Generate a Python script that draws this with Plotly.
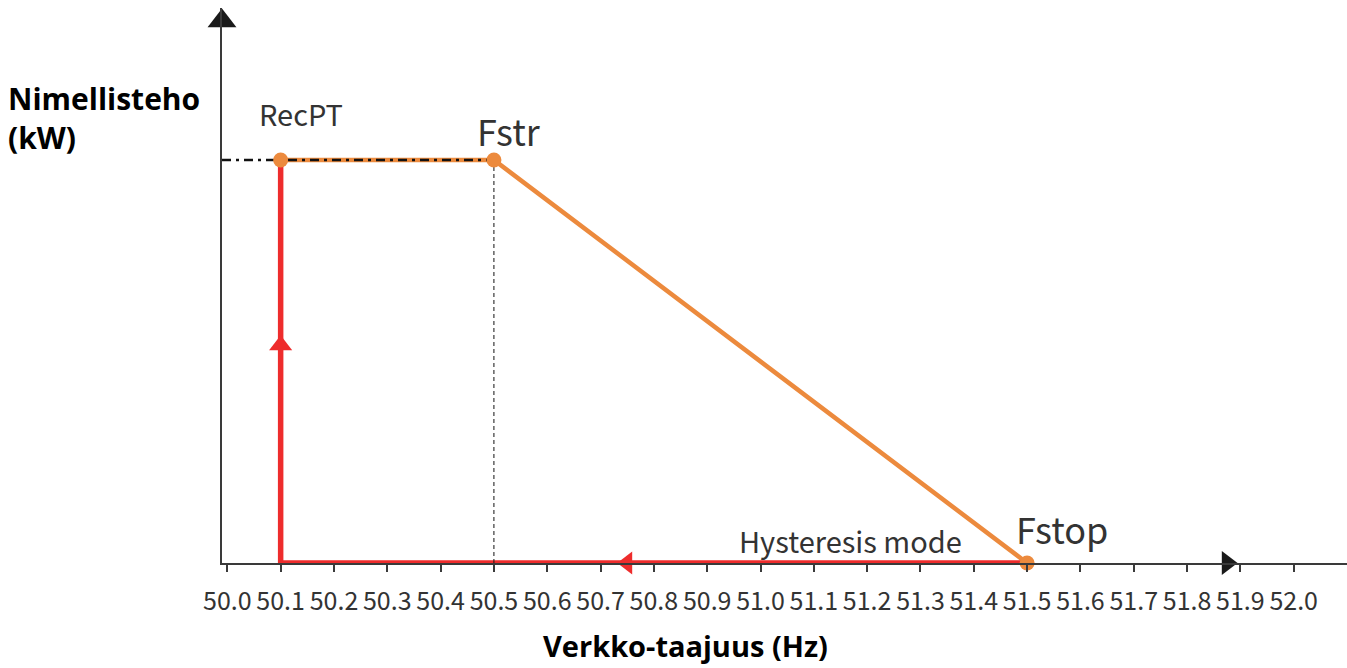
import plotly.graph_objects as go

# Frequency / power characteristic
freq_ticks = [round(50.0 + 0.1 * i, 1) for i in range(21)]
tick_text = [f"{v:.1f}" for v in freq_ticks]

orange_x = [50.1, 50.5, 51.5]
orange_y = [1.0, 1.0, 0.0]

red_x = [51.5, 50.1, 50.1]
red_y = [0.0, 0.0, 1.0]

dot_x = [50.1, 50.5, 51.5]
dot_y = [1.0, 1.0, 0.0]

rated_level = 1.0
f_start = 50.5
x_min, x_max = 49.99, 52.1
y_min, y_max = 0.0, 1.377

ORANGE = "#EC8A3D"
RED = "#EE2C2C"
AX = "#3a3a3a"
TXT = "#333333"
LAB_FONT = "Noto Sans CJK SC"

fig = go.Figure()

# orange power-reduction curve
fig.add_trace(go.Scatter(x=orange_x, y=orange_y, mode="lines",
                         line=dict(color=ORANGE, width=4.5), hoverinfo="skip"))
# red hysteresis return path
fig.add_trace(go.Scatter(x=red_x, y=red_y, mode="lines",
                         line=dict(color=RED, width=5.5), cliponaxis=False, hoverinfo="skip"))
# dash-dot rated power reference
fig.add_trace(go.Scatter(x=[x_min, f_start], y=[rated_level, rated_level], mode="lines",
                         line=dict(color="#111111", width=2.5, dash="9px,5px,3px,5px"),
                         hoverinfo="skip"))
# thin dashed drop line at Fstr
fig.add_trace(go.Scatter(x=[f_start, f_start], y=[0, rated_level], mode="lines",
                         line=dict(color="#111111", width=1, dash="4px,3px"), hoverinfo="skip"))
# direction arrows on the red path
fig.add_trace(go.Scatter(x=[50.75], y=[0.0], mode="markers",
                         marker=dict(symbol="triangle-left", size=20, color=RED),
                         cliponaxis=False, hoverinfo="skip"))
fig.add_trace(go.Scatter(x=[50.1], y=[0.54], mode="markers",
                         marker=dict(symbol="triangle-up", size=20, color=RED),
                         cliponaxis=False, hoverinfo="skip"))
# axis arrowheads
fig.add_trace(go.Scatter(x=[51.875], y=[0.0], mode="markers",
                         marker=dict(symbol="triangle-right", size=21, color="#1a1a1a"),
                         cliponaxis=False, hoverinfo="skip"))
fig.add_trace(go.Scatter(x=[x_min], y=[1.345], mode="markers",
                         marker=dict(symbol="triangle-up", size=25, color="#1a1a1a"),
                         cliponaxis=False, hoverinfo="skip"))
# characteristic points
fig.add_trace(go.Scatter(x=dot_x, y=dot_y, mode="markers",
                         marker=dict(size=15, color=ORANGE), cliponaxis=False, hoverinfo="skip"))

labels = [
    ("RecPT", 50.139, 1.117, 29),
    ("Fstr", 50.529, 1.074, 36),
    ("Fstop", 51.566, 0.087, 36),
    ("Hysteresis mode", 51.169, 0.057, 29),
]
for txt, lx, ly, fs in labels:
    fig.add_annotation(x=lx, y=ly, text=txt, showarrow=False,
                       font=dict(family=LAB_FONT, size=fs, color=TXT))

fig.add_annotation(xref="paper", yref="paper", x=-0.192, y=0.802, xanchor="left",
                   yanchor="middle", align="left", showarrow=False,
                   text="<b>Nimellisteho<br>(kW)</b>",
                   font=dict(family="Open Sans", size=30, color="#000000"))
fig.add_annotation(xref="paper", yref="paper", x=0.4116, y=-0.148, xanchor="center",
                   yanchor="middle", showarrow=False,
                   text="<b>Verkko-taajuus (Hz)</b>",
                   font=dict(family="Open Sans", size=29, color="#000000"))

fig.update_layout(
    width=1347, height=668,
    margin=dict(l=222, r=0, t=8, b=105),
    paper_bgcolor="white", plot_bgcolor="white",
    showlegend=False,
    xaxis=dict(range=[x_min, x_max], tickvals=freq_ticks, ticktext=tick_text,
               showline=True, linecolor=AX, linewidth=1.5,
               ticks="outside", ticklen=7, tickcolor=AX, tickwidth=1.5,
               ticklabelstandoff=8,
               showgrid=False, zeroline=False,
               tickfont=dict(family=LAB_FONT, size=25, color=TXT)),
    yaxis=dict(range=[y_min, y_max], showline=True, linecolor=AX, linewidth=1.5,
               showticklabels=False, ticks="", showgrid=False, zeroline=False),
)

fig.write_html("out.html")
